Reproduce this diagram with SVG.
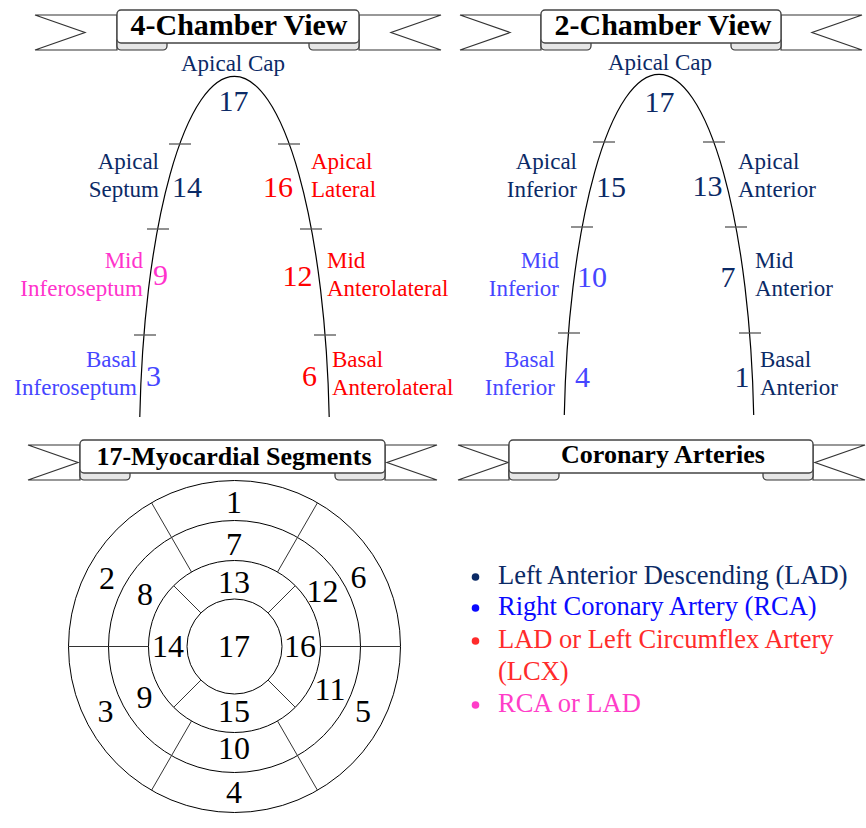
<svg xmlns="http://www.w3.org/2000/svg" width="866" height="828" viewBox="0 0 866 828">
<defs>
<style>
text{font-family:"Liberation Serif","Times New Roman",serif}
.lbl{font-size:23px}
.num{font-size:30px}
.seg{font-size:32px;fill:#000;text-anchor:middle}
.title{font-size:26px;font-weight:bold;fill:#000;text-anchor:middle}
.big{font-size:30px}
.leg{font-size:26.5px}
.navy{fill:#0b2a66}.blue{fill:#4646ff}.red{fill:#ff0000}.pink{fill:#ff33cc}
.lblue{fill:#0a0aff}.lred{fill:#ff2b2b}.lpink{fill:#ff3dc8}
.end{text-anchor:end}.mid{text-anchor:middle}
.tail{fill:#fff;stroke:#333;stroke-width:1.2}
.fold{fill:#e6e6e6;stroke:#333;stroke-width:1.2}
.box{fill:#fff;stroke:#444;stroke-width:1.4}
.curve{fill:none;stroke:#000;stroke-width:1.2}
.tick{stroke:#555;stroke-width:1.3}
.ring{fill:none;stroke:#000;stroke-width:1}
.rad{stroke:#333;stroke-width:1}
</style>
</defs>
<rect width="866" height="828" fill="#fff"/>

<!-- Banner: 4-Chamber View -->
<g id="banner-4ch">
<polygon class="tail" points="35,15 117,15 117,50 35,50 85,32.5"/>
<polygon class="tail" points="441,15 359,15 359,50 441,50 391,32.5"/>
<rect class="fold" x="117" y="37" width="50" height="13" rx="4"/>
<rect class="fold" x="309" y="37" width="50" height="13" rx="4"/>
<rect class="box" x="117" y="10" width="242" height="33" rx="4"/>
<text class="title big" x="239" y="35">4-Chamber View</text>
</g>

<!-- Banner: 2-Chamber View -->
<g id="banner-2ch">
<polygon class="tail" points="460,15 541,15 541,50 460,50 510,32.5"/>
<polygon class="tail" points="862,15 781,15 781,50 862,50 812,32.5"/>
<rect class="fold" x="541" y="37" width="50" height="13" rx="4"/>
<rect class="fold" x="731" y="37" width="50" height="13" rx="4"/>
<rect class="box" x="541" y="10" width="240" height="33" rx="4"/>
<text class="title big" x="663" y="35">2-Chamber View</text>
</g>

<!-- Banner: 17-Myocardial Segments -->
<g id="banner-17">
<polygon class="tail" points="28,445 80,445 80,480 28,480 78,462.5"/>
<polygon class="tail" points="437,445 385,445 385,480 437,480 387,462.5"/>
<rect class="fold" x="80" y="467" width="50" height="13" rx="4"/>
<rect class="fold" x="335" y="467" width="50" height="13" rx="4"/>
<rect class="box" x="80" y="440" width="305" height="33" rx="4"/>
<text class="title" x="234" y="465">17-Myocardial Segments</text>
</g>

<!-- Banner: Coronary Arteries -->
<g id="banner-coronary">
<polygon class="tail" points="458,445 509,445 509,480 458,480 508,462.5"/>
<polygon class="tail" points="865,445 813,445 813,480 865,480 815,462.5"/>
<rect class="fold" x="509" y="467" width="50" height="13" rx="4"/>
<rect class="fold" x="763" y="467" width="50" height="13" rx="4"/>
<rect class="box" x="509" y="440" width="304" height="33" rx="4"/>
<text class="title" x="663" y="463">Coronary Arteries</text>
</g>

<!-- 4-Chamber heart -->
<g id="heart-4ch">
<path class="curve" d="M139.8,417 A95,370 0 0 1 329.2,417"/>
<line class="tick" x1="169" y1="144" x2="191" y2="144"/>
<line class="tick" x1="147" y1="229" x2="169" y2="229"/>
<line class="tick" x1="134" y1="335" x2="156" y2="335"/>
<line class="tick" x1="278" y1="144" x2="300" y2="144"/>
<line class="tick" x1="300" y1="229" x2="322" y2="229"/>
<line class="tick" x1="314" y1="335" x2="336" y2="335"/>
<text class="lbl navy mid" x="233" y="71">Apical Cap</text>
<text class="num navy mid" x="233.5" y="111">17</text>
<text class="lbl navy end" x="159" y="169">Apical</text>
<text class="lbl navy end" x="159" y="197">Septum</text>
<text class="num navy mid" x="187" y="197">14</text>
<text class="lbl red" x="311" y="169">Apical</text>
<text class="lbl red" x="311" y="197">Lateral</text>
<text class="num red mid" x="278" y="197">16</text>
<text class="lbl pink end" x="143" y="268">Mid</text>
<text class="lbl pink end" x="143" y="296">Inferoseptum</text>
<text class="num pink mid" x="160.5" y="285">9</text>
<text class="lbl red" x="327" y="268">Mid</text>
<text class="lbl red" x="327" y="296">Anterolateral</text>
<text class="num red mid" x="297.5" y="286">12</text>
<text class="lbl blue end" x="137" y="367">Basal</text>
<text class="lbl blue end" x="137" y="395">Inferoseptum</text>
<text class="num blue mid" x="153.5" y="386">3</text>
<text class="lbl red" x="332" y="367">Basal</text>
<text class="lbl red" x="332" y="395">Anterolateral</text>
<text class="num red mid" x="309.5" y="386">6</text>
</g>

<!-- 2-Chamber heart -->
<g id="heart-2ch">
<path class="curve" d="M564.3,415 A95,370 0 0 1 753.7,415"/>
<line class="tick" x1="593" y1="142" x2="615" y2="142"/>
<line class="tick" x1="571" y1="227" x2="593" y2="227"/>
<line class="tick" x1="558" y1="333" x2="580" y2="333"/>
<line class="tick" x1="703" y1="142" x2="725" y2="142"/>
<line class="tick" x1="725" y1="227" x2="747" y2="227"/>
<line class="tick" x1="739" y1="333" x2="761" y2="333"/>
<text class="lbl navy mid" x="660" y="70">Apical Cap</text>
<text class="num navy mid" x="659.5" y="112">17</text>
<text class="lbl navy end" x="577" y="169">Apical</text>
<text class="lbl navy end" x="577" y="197">Inferior</text>
<text class="num navy mid" x="611" y="197">15</text>
<text class="lbl navy" x="738" y="169">Apical</text>
<text class="lbl navy" x="738" y="197">Anterior</text>
<text class="num navy mid" x="707.5" y="196">13</text>
<text class="lbl blue end" x="559" y="268">Mid</text>
<text class="lbl blue end" x="559" y="296">Inferior</text>
<text class="num blue mid" x="592" y="287">10</text>
<text class="lbl navy" x="755" y="268">Mid</text>
<text class="lbl navy" x="755" y="296">Anterior</text>
<text class="num navy mid" x="728" y="287">7</text>
<text class="lbl blue end" x="555" y="367">Basal</text>
<text class="lbl blue end" x="555" y="395">Inferior</text>
<text class="num blue mid" x="582.5" y="387">4</text>
<text class="lbl navy" x="760" y="367">Basal</text>
<text class="lbl navy" x="760" y="395">Anterior</text>
<text class="num navy mid" x="742" y="387">1</text>
</g>

<!-- Bullseye -->
<g id="bullseye">
<circle class="ring" cx="234.5" cy="646.5" r="166"/>
<circle class="ring" cx="234.5" cy="646.5" r="126"/>
<circle class="ring" cx="234.5" cy="646.5" r="86"/>
<circle class="ring" cx="234.5" cy="646.5" r="47.5"/>
<g transform="translate(234.5,646.5)">
<line class="rad" x1="86" y1="0" x2="166" y2="0" stroke="#666"/>
<line class="rad" x1="-86" y1="0" x2="-166" y2="0" stroke="#666"/>
<line class="rad" x1="43" y1="-74.5" x2="83" y2="-143.8"/>
<line class="rad" x1="-43" y1="-74.5" x2="-83" y2="-143.8"/>
<line class="rad" x1="43" y1="74.5" x2="83" y2="143.8"/>
<line class="rad" x1="-43" y1="74.5" x2="-83" y2="143.8"/>
<line class="rad" x1="33.6" y1="-33.6" x2="60.8" y2="-60.8"/>
<line class="rad" x1="-33.6" y1="-33.6" x2="-60.8" y2="-60.8"/>
<line class="rad" x1="33.6" y1="33.6" x2="60.8" y2="60.8"/>
<line class="rad" x1="-33.6" y1="33.6" x2="-60.8" y2="60.8"/>
</g>
<text class="seg" x="234" y="513">1</text>
<text class="seg" x="234" y="555">7</text>
<text class="seg" x="234" y="593">13</text>
<text class="seg" x="234" y="657">17</text>
<text class="seg" x="168" y="657">14</text>
<text class="seg" x="300" y="657">16</text>
<text class="seg" x="234" y="722">15</text>
<text class="seg" x="234" y="759">10</text>
<text class="seg" x="234" y="803">4</text>
<text class="seg" x="107" y="589">2</text>
<text class="seg" x="145" y="605">8</text>
<text class="seg" x="322.5" y="602">12</text>
<text class="seg" x="358.5" y="588">6</text>
<text class="seg" x="144.5" y="708">9</text>
<text class="seg" x="105.5" y="722">3</text>
<text class="seg" x="330" y="700">11</text>
<text class="seg" x="363" y="722">5</text>
</g>

<!-- Legend -->
<g id="legend">
<circle cx="475.5" cy="577" r="3.8" fill="#0b2a66"/>
<circle cx="475.5" cy="608" r="3.8" fill="#0a0aff"/>
<circle cx="475.5" cy="641" r="3.8" fill="#ff2b2b"/>
<circle cx="475.5" cy="705" r="3.8" fill="#ff3dc8"/>
<text class="leg navy" x="498" y="584">Left Anterior Descending (LAD)</text>
<text class="leg lblue" x="498" y="615">Right Coronary Artery (RCA)</text>
<text class="leg lred" x="498" y="648">LAD or Left Circumflex Artery</text>
<text class="leg lred" x="498" y="680">(LCX)</text>
<text class="leg lpink" x="498" y="712">RCA or LAD</text>
</g>
</svg>
